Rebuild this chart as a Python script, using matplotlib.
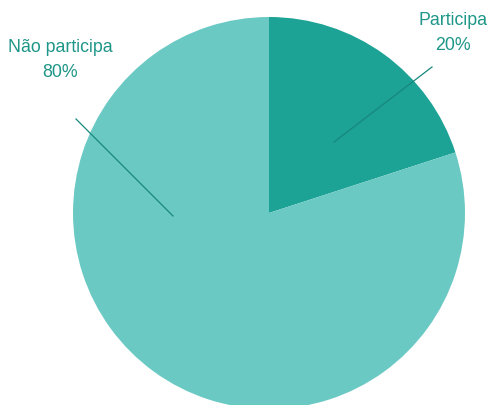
import matplotlib
matplotlib.use("Agg")
import matplotlib.pyplot as plt

labels = ["Participa", "Não participa"]
values = [20, 80]
colors = ["#1DA396", "#6BC9C4"]
text_color = "#1E9688"
line_color = "#17877C"

W, H = 492, 406
fig = plt.figure(figsize=(W / 100, H / 100), dpi=100)
ax = fig.add_axes([0, 0, 1, 1])

cx, cy, r = 269, H - 214, 196
ax.pie(values, colors=colors, startangle=90, counterclock=False,
       center=(cx, cy), radius=r, frame=True,
       wedgeprops=dict(linewidth=0))
ax.set_xlim(0, W)
ax.set_ylim(0, H)
ax.set_aspect("equal")
ax.axis("off")

# label text and leader lines (pixel positions measured from the top)
label_pos = {"Participa": (453, 33), "Não participa": (60, 60)}
line_pts = {"Participa": ((334, 143), (432, 68)),
            "Não participa": ((173, 217), (76, 120))}

for lab, val in zip(labels, values):
    tx, ty = label_pos[lab]
    ax.text(tx, H - ty, f"{lab}\n{val}%", ha="center", va="center",
            color=text_color, fontsize=12.8, family="Liberation Sans",
            linespacing=1.55)
    (x0, y0), (x1, y1) = line_pts[lab]
    ax.plot([x0, x1], [H - y0, H - y1], color=line_color, lw=0.9)

fig.savefig("out.png", dpi=100)
